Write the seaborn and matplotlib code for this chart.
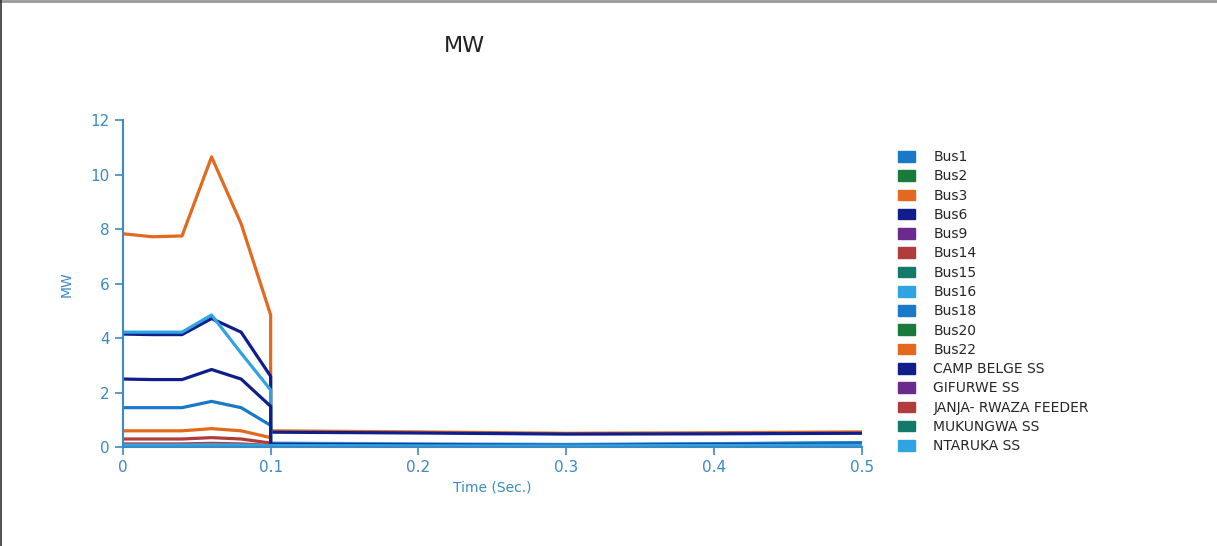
import pandas as pd
import seaborn as sns
import matplotlib.pyplot as plt
from matplotlib.patches import Patch
from matplotlib.lines import Line2D

# time points (two samples at 0.1 for the step)
time = [0, 0.02, 0.04, 0.06, 0.08, 0.1, 0.1, 0.2, 0.3, 0.4, 0.5]

names = ['Bus1', 'Bus2', 'Bus3', 'Bus6', 'Bus9', 'Bus14', 'Bus15', 'Bus16',
         'Bus18', 'Bus20', 'Bus22', 'CAMP BELGE SS', 'GIFURWE SS',
         'JANJA- RWAZA FEEDER', 'MUKUNGWA SS', 'NTARUKA SS']

bus1 = [0.05, 0.05, 0.05, 0.06, 0.05, 0.03, 0.02, 0.02, 0.02, 0.02, 0.03]
bus2 = [0.02, 0.02, 0.02, 0.02, 0.02, 0.01, 0.01, 0.01, 0.01, 0.01, 0.01]
bus3 = [7.83, 7.72, 7.75, 10.65, 8.2, 4.85, 0.6, 0.56, 0.51, 0.53, 0.56]
bus6 = [4.15, 4.13, 4.13, 4.72, 4.22, 2.6, 0.55, 0.52, 0.48, 0.49, 0.51]
bus9 = [0.02, 0.02, 0.02, 0.02, 0.02, 0.01, 0.01, 0.01, 0.01, 0.01, 0.01]
bus14 = [0.3, 0.3, 0.3, 0.35, 0.3, 0.15, 0.03, 0.03, 0.02, 0.03, 0.03]
bus15 = [0.01, 0.01, 0.01, 0.01, 0.01, 0.01, 0.01, 0.01, 0.01, 0.01, 0.01]
bus16 = [4.22, 4.22, 4.22, 4.85, 3.45, 2.1, 0.15, 0.12, 0.1, 0.13, 0.17]
bus18 = [1.45, 1.45, 1.45, 1.68, 1.45, 0.8, 0.12, 0.1, 0.08, 0.12, 0.16]
bus20 = [0.01, 0.01, 0.01, 0.01, 0.01, 0.01, 0.01, 0.01, 0.01, 0.01, 0.01]
bus22 = [0.6, 0.6, 0.6, 0.68, 0.6, 0.35, 0.04, 0.03, 0.03, 0.03, 0.04]
camp_belge = [2.5, 2.48, 2.48, 2.85, 2.5, 1.5, 0.1, 0.08, 0.06, 0.08, 0.1]
gifurwe = [0.02, 0.02, 0.02, 0.02, 0.02, 0.01, 0.01, 0.01, 0.01, 0.01, 0.01]
janja = [0.12, 0.12, 0.12, 0.14, 0.12, 0.06, 0.02, 0.02, 0.02, 0.02, 0.02]
mukungwa = [0.01, 0.01, 0.01, 0.01, 0.01, 0.01, 0.01, 0.01, 0.01, 0.01, 0.01]
ntaruka = [0.08, 0.08, 0.08, 0.09, 0.08, 0.05, 0.06, 0.05, 0.05, 0.06, 0.08]

series = [bus1, bus2, bus3, bus6, bus9, bus14, bus15, bus16, bus18, bus20,
          bus22, camp_belge, gifurwe, janja, mukungwa, ntaruka]

colors = ['#1a78c8', '#197a3c', '#e2691d', '#101e8c', '#6b2a8c', '#b03c3c',
          '#13796b', '#2fa4e0', '#1a78c8', '#197a3c', '#e2691d', '#101e8c',
          '#6b2a8c', '#b03c3c', '#13796b', '#2fa4e0']

rows = []
for n, vals in zip(names, series):
    for t, v in zip(time, vals):
        rows.append({'series': n, 'time': t, 'mw': v})
df = pd.DataFrame(rows)

axis_col = '#3b8ac4'

sns.set_style('white')
fig = plt.figure(figsize=(12.17, 5.46), dpi=100)
ax = fig.add_axes([0.101, 0.181, 0.607, 0.599])

sns.lineplot(data=df, x='time', y='mw', hue='series', hue_order=names,
             palette=dict(zip(names, colors)), estimator=None, sort=False,
             linewidth=2.3, ax=ax, legend=False)

ax.set_xlim(0, 0.5)
ax.set_ylim(0, 12)
ax.set_xticks([0, 0.1, 0.2, 0.3, 0.4, 0.5])
ax.set_xticklabels(['0', '0.1', '0.2', '0.3', '0.4', '0.5'])
ax.set_yticks(range(0, 13, 2))
for s in ['top', 'right']:
    ax.spines[s].set_visible(False)
for s in ['left', 'bottom']:
    ax.spines[s].set_color(axis_col)
    ax.spines[s].set_linewidth(1.5)
ax.tick_params(colors=axis_col, labelcolor=axis_col, labelsize=11,
               length=6, width=1.2, direction='out', left=True, bottom=True)
ax.set_xlabel('Time (Sec.)', color=axis_col, fontsize=10, labelpad=4)
ax.set_ylabel('MW', color=axis_col, fontsize=10, labelpad=12)

fig.text(0.382, 0.915, 'MW', fontsize=16, color='#222222', ha='center', va='center')

handles = [Patch(facecolor=c, edgecolor=c) for c in colors]
fig.legend(handles, names, loc='upper left', bbox_to_anchor=(0.728, 0.748),
           frameon=False, fontsize=10, handlelength=1.2, handleheight=0.8,
           labelspacing=0.38, handletextpad=1.3)

# frame lines of the screenshot (top and left)
fig.add_artist(Line2D([0, 1], [0.998, 0.998], transform=fig.transFigure,
                      color='#999999', linewidth=2))
fig.add_artist(Line2D([0.001, 0.001], [0, 1], transform=fig.transFigure,
                      color='#333333', linewidth=1.2))

fig.savefig('out.png', dpi=100)
